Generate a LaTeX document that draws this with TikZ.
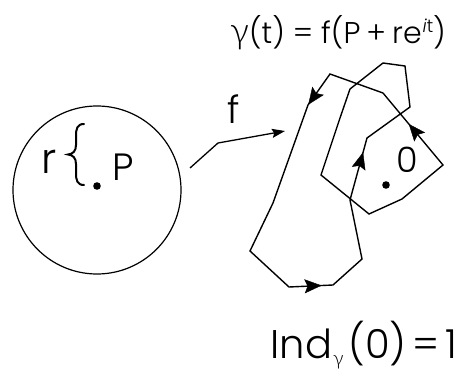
\documentclass[tikz,border=0pt]{standalone}
\usepackage{fontspec}
\setmainfont{Poppins}[UprightFont={* Light},ItalicFont={* Light Italic}]
\newfontfamily\greekfont{Lato}[UprightFont={* Light}]
\usetikzlibrary{arrows.meta,decorations.markings}
\tikzset{
  curve/.style={line width=1.4pt, line join=miter},
  arrowat/.style={postaction={decorate,decoration={markings,
      mark=at position #1 with {\arrow{Stealth[length=17pt,width=14pt,inset=3pt]}}}}},
  lbl/.style={inner sep=0pt, anchor=base},
}
\begin{document}
\begin{tikzpicture}[x=1pt,y=-1pt]
\useasboundingbox (0,0) rectangle (459,372);
% disk
\draw[line width=1.2pt] (97,190) circle[radius=84];
\fill (97,186) coordinate (P) circle[radius=3.8];
\node[lbl] (r) at (49,173) {\fontsize{42}{44}\selectfont r};
% brace
\draw[line width=2pt, line cap=round] (84,124) .. controls (77,124) and (76,129) .. (76,136)
  -- (76,145) .. controls (76,151) and (73,154) .. (68,154.5)
  .. controls (73,155) and (76,158) .. (76,164) -- (76,173)
  .. controls (76,180) and (77,185) .. (84,185);
\node[lbl] (Pl) at (123,180) {\fontsize{38}{40}\selectfont P};
% map f
\coordinate (f0) at (190,168);
\coordinate (f1) at (218,143);
\coordinate (f2) at (285,131);
\draw[line width=1.3pt,-{Stealth[length=13pt,width=9pt,inset=2pt]}] (f0) -- (f1) -- (f2);
\node[lbl] (f) at (234,123) {\fontsize{38}{40}\selectfont f};
% curve gamma
\coordinate (a1) at (289,287);
\coordinate (a2) at (333,285);
\coordinate (a3) at (362,259);
\coordinate (a4) at (350,200);
\coordinate (a5) at (367,138);
\coordinate (a6) at (410,107);
\coordinate (a7) at (405,66);
\coordinate (a8) at (383,63);
\coordinate (a9) at (350,89);
\coordinate (a10) at (340,118);
\coordinate (a11) at (321,175);
\coordinate (a12) at (369,214);
\coordinate (a13) at (402,199);
\coordinate (a14) at (443,165);
\coordinate (a15) at (383,93);
\coordinate (a16) at (330,74);
\coordinate (a17) at (308,105);
\coordinate (a18) at (273,203);
\coordinate (a19) at (250,251);
\draw[curve] (a1) -- (a2) -- (a3) -- (a4) -- (a5) -- (a6) -- (a7) -- (a8) -- (a9)
  -- (a10) -- (a11) -- (a12) -- (a13) -- (a14) -- (a15) -- (a16) -- (a17)
  -- (a18) -- (a19) -- cycle;
\path[arrowat=0.74] (a1) -- (a2);
\path[arrowat=0.77] (a4) -- (a5);
\path[arrowat=0.57] (a14) -- (a15);
\path[arrowat=0.99] (a16) -- (a17);
% origin
\fill (386,185) coordinate (O) circle[radius=3.8];
\node[lbl] (zero) at (407,172) {\fontsize{35}{40}\selectfont 0};
% labels
\node[lbl] (gam) at (338,43) {\fontsize{30}{34}\selectfont {\greekfont\fontsize{36}{38}\selectfont γ}(t)\hspace{8pt}=\hspace{8pt}f(P\hspace{6pt}+\hspace{6pt}re\hspace{1pt}\raisebox{11pt}{\fontsize{18}{20}\selectfont\itshape i\upshape t})};
\node[lbl] (ind) at (364,358) {\fontsize{40}{44}\selectfont Ind\hspace{1pt}\raisebox{-7pt}{\fontsize{20}{22}\selectfont\greekfont γ}\hspace{5pt}(0)\hspace{6pt}=\hspace{6pt}1};
\end{tikzpicture}
\end{document}
